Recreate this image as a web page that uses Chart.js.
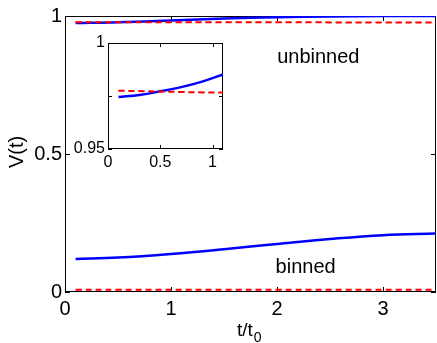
<!DOCTYPE html>
<html>
<head>
<meta charset="utf-8">
<script src="https://cdn.jsdelivr.net/npm/chart.js@4/dist/chart.umd.min.js"></script>
<style>
body { margin: 0; background: #fff; }
#wrap { position: relative; width: 437px; height: 343px; }
#mainChart { position: absolute; left: 0; top: 0; }
#insetChart { position: absolute; left: 40px; top: 30px; }
</style>
</head>
<body>
<div id="wrap">
    <canvas id="mainChart" width="437" height="343"></canvas>
    <canvas id="insetChart" width="190" height="150"></canvas>
</div>
<script>
// main panel
const tMain = [0.1, 0.5, 1, 1.5, 2, 2.5, 3, 3.5];
const unbinnedExact = [0.9745, 0.9772, 0.9835, 0.9905, 0.9955, 0.9985, 1.0, 1.0];
const unbinnedApprox = [0.9775, 0.9774, 0.9772, 0.9771, 0.977, 0.9769, 0.9768, 0.9767];
const binnedExact = [0.12, 0.125, 0.138, 0.155, 0.174, 0.192, 0.206, 0.212];
const binnedApprox = [0.008, 0.008, 0.008, 0.008, 0.008, 0.008, 0.008, 0.008];
const xTicksMain = [0, 1, 2, 3];
const yTicksMain = [0, 0.5, 1];

// inset (zoom on unbinned)
const tInset = [0.1, 0.3, 0.5, 0.7, 0.9, 1.1];
const insetExact = [0.9745, 0.9755, 0.9772, 0.9792, 0.9818, 0.9852];
const insetApprox = [0.9775, 0.9773, 0.9771, 0.9769, 0.9767, 0.9766];
const xTicksInset = [0, 0.5, 1];
const yTicksInset = [0.95, 0.975, 1];
const yLabelsInset = ['0.95', '', '1'];

const FONT = '"Liberation Sans", Arial, sans-serif';
const pts = (xs, ys) => xs.map((x, i) => ({ x: x, y: ys[i] }));

const BLUE = '#0000ff';
const RED = '#ff0000';

function solid(data) {
    return { data: data, borderColor: BLUE, borderWidth: 2.5, pointRadius: 0, tension: 0.4, fill: false };
}
function dashed(data) {
    return { data: data, borderColor: RED, borderWidth: 2, borderDash: [6, 4], pointRadius: 0, tension: 0.4, fill: false };
}
function dotted(data) {
    return { data: data, borderColor: '#333', borderWidth: 1, borderDash: [1, 4], pointRadius: 0, tension: 0.4, fill: false };
}

// box + inward tick marks, matlab style
const frame = {
    id: 'frame',
    beforeDatasetsDraw(chart, args, opts) {
        const { ctx, chartArea: a, scales: { x, y } } = chart;
        ctx.save();
        if (opts.fill) {
            ctx.fillStyle = '#fff';
            ctx.fillRect(a.left, a.top, a.width, a.height);
        }
        ctx.strokeStyle = '#000';
        ctx.lineWidth = 1;
        ctx.strokeRect(Math.round(a.left) + 0.5, Math.round(a.top) + 0.5, Math.round(a.width) - 1, Math.round(a.height) - 1);
        const len = opts.len || 5;
        ctx.beginPath();
        x.ticks.forEach(t => {
            const px = Math.round(x.getPixelForValue(t.value)) + 0.5;
            ctx.moveTo(px, a.bottom); ctx.lineTo(px, a.bottom - len);
            ctx.moveTo(px, a.top); ctx.lineTo(px, a.top + len);
        });
        y.ticks.forEach(t => {
            const py = Math.round(y.getPixelForValue(t.value)) + 0.5;
            ctx.moveTo(a.left, py); ctx.lineTo(a.left + len, py);
            ctx.moveTo(a.right, py); ctx.lineTo(a.right - len, py);
        });
        ctx.stroke();
        ctx.restore();
    }
};

const labels = {
    id: 'labels',
    afterDraw(chart) {
        if (chart.canvas.id !== 'mainChart') return;
        const { ctx, scales: { x, y } } = chart;
        ctx.save();
        ctx.fillStyle = '#000';
        ctx.font = '20px ' + FONT;
        ctx.textAlign = 'center';
        ctx.textBaseline = 'middle';
        ctx.fillText('unbinned', x.getPixelForValue(2.39), y.getPixelForValue(0.848));
        ctx.fillText('binned', x.getPixelForValue(2.27), y.getPixelForValue(0.09));
        // y title
        ctx.save();
        ctx.translate(17, 152);
        ctx.rotate(-Math.PI / 2);
        ctx.fillText('V(t)', 0, 0);
        ctx.restore();
        // x title with subscript
        ctx.textAlign = 'left';
        ctx.textBaseline = 'alphabetic';
        ctx.font = '19px ' + FONT;
        ctx.fillText('t/t', 237, 336);
        const w = ctx.measureText('t/t').width;
        ctx.font = '14px ' + FONT;
        ctx.fillText('0', 237 + w + 1, 342);
        ctx.restore();
    }
};

function linearAxis(min, max, tickVals, tickText, fontSize, fit, padding) {
    return {
        type: 'linear',
        min: min,
        max: max,
        afterBuildTicks: (s) => { s.ticks = tickVals.map(v => ({ value: v })); },
        afterFit: fit,
        grid: { display: false, drawTicks: false },
        border: { display: false },
        ticks: {
            color: '#000', font: { family: FONT, size: fontSize }, padding: padding, maxRotation: 0, autoSkip: false,
            callback: (v, i) => tickText[i]
        }
    };
}

new Chart(document.getElementById('mainChart'), {
    type: 'line',
    data: {
        datasets: [
            dashed(pts(tMain, unbinnedApprox)),
            dotted(pts(tMain, unbinnedApprox)),
            solid(pts(tMain, unbinnedExact)),
            dashed(pts(tMain, binnedApprox)),
            solid(pts(tMain, binnedExact))
        ]
    },
    options: {
        responsive: false,
        animation: false,
        layout: { padding: { top: 16, right: 1, left: 0, bottom: 0 } },
        plugins: { legend: { display: false }, tooltip: { enabled: false }, frame: { len: 5 } },
        scales: {
            x: linearAxis(0, 3.5, xTicksMain, xTicksMain.map(String), 20, s => { s.height = 51; }, 5),
            y: linearAxis(0, 1, yTicksMain, yTicksMain.map(String), 20, s => { s.width = 65; }, 3)
        }
    },
    plugins: [frame, labels]
});

new Chart(document.getElementById('insetChart'), {
    type: 'line',
    data: {
        datasets: [
            dashed(pts(tInset, insetApprox)),
            dotted(pts(tInset, insetApprox)),
            solid(pts(tInset, insetExact))
        ]
    },
    options: {
        responsive: false,
        animation: false,
        layout: { padding: { top: 13, right: 7, left: 0, bottom: 0 } },
        plugins: { legend: { display: false }, tooltip: { enabled: false }, frame: { fill: true, len: 4 } },
        scales: {
            x: linearAxis(0, 1.1, xTicksInset, xTicksInset.map(String), 16, s => { s.height = 31; }, 4),
            y: linearAxis(0.95, 1, yTicksInset, yLabelsInset, 16, s => { s.width = 68; }, 3)
        }
    },
    plugins: [frame]
});
</script>
</body>
</html>
